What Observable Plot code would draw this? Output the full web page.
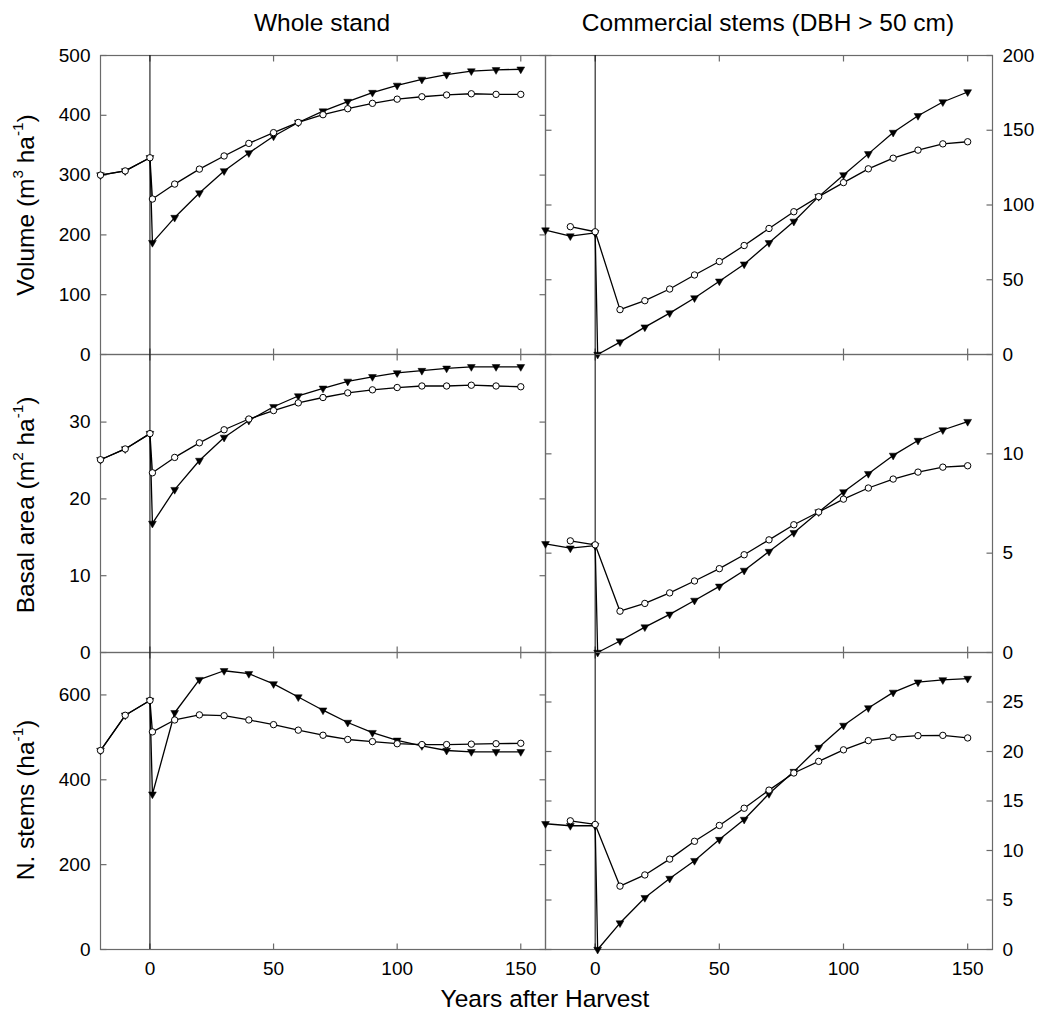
<!DOCTYPE html>
<html><head><meta charset="utf-8">
<script src="https://cdn.jsdelivr.net/npm/d3@7"></script>
<script src="https://cdn.jsdelivr.net/npm/@observablehq/plot@0.6"></script>
<style>
body{margin:0;background:#fff;}
#fig{position:relative;width:1040px;height:1026px;font-family:"Liberation Sans",Arial,sans-serif;color:#000;overflow:hidden;}
.pan{position:absolute;}
.lbl{position:absolute;font-size:24.5px;line-height:1;white-space:nowrap;}
.sp{font-size:0.62em;vertical-align:0.7em;}
</style></head><body><div id="fig"></div>
<script>
// ---------- data ----------
const xDomain = [-20, 160];
const xTicks = [0, 50, 100, 150];
const preYears = [-20, -10, 0];
const postYears = [1, 10, 20, 30, 40, 50, 60, 70, 80, 90, 100, 110, 120, 130, 140, 150];
const circPreYearsC = [-10, 0];
const circPostYearsC = [10, 20, 30, 40, 50, 60, 70, 80, 90, 100, 110, 120, 130, 140, 150];

// Whole stand
const volWholeCircPre = [300, 307, 329];
const volWholeCircPost = [260, 285, 310, 332, 353, 371, 388, 401, 411, 420, 427, 431, 434, 436, 435, 435];
const volWholeTriPre = [300, 307, 329];
const volWholeTriPost = [187, 229, 270, 307, 337, 365, 388, 407, 423, 438, 450, 460, 468, 474, 476, 477];

const baWholeCircPre = [25.1, 26.5, 28.5];
const baWholeCircPost = [23.4, 25.4, 27.3, 29.0, 30.4, 31.5, 32.5, 33.2, 33.8, 34.2, 34.5, 34.7, 34.7, 34.8, 34.7, 34.6];
const baWholeTriPre = [25.1, 26.5, 28.5];
const baWholeTriPost = [16.8, 21.2, 25.0, 28.0, 30.2, 32.0, 33.4, 34.4, 35.3, 35.9, 36.4, 36.7, 37.0, 37.2, 37.2, 37.2];

const nWholeCircPre = [469, 552, 587];
const nWholeCircPost = [513, 541, 553, 551, 541, 530, 517, 505, 495, 490, 485, 483, 483, 484, 485, 486];
const nWholeTriPre = [469, 552, 587];
const nWholeTriPost = [366, 558, 636, 657, 650, 626, 595, 564, 535, 511, 493, 480, 469, 466, 466, 466];

// Commercial stems (DBH > 50 cm)
const volComTriPre = [83.2, 79.2, 81.4];
const volComTriPost = [0, 8.3, 18.3, 27.7, 37.8, 49, 60.4, 74.7, 89, 105.6, 120.1, 134.2, 148.5, 159.7, 168.9, 175.6];
const volComCircPre = [85.5, 82.1];
const volComCircPost = [30, 36, 43.8, 53.2, 62.2, 72.9, 84.3, 95.5, 105.6, 115, 124.2, 131.3, 136.7, 140.9, 142.3];

const baComTriPre = [5.47, 5.25, 5.38];
const baComTriPost = [0, 0.58, 1.28, 1.92, 2.62, 3.33, 4.13, 5.08, 6.03, 7.07, 8.08, 9.0, 9.92, 10.67, 11.2, 11.62];
const baComCircPre = [5.62, 5.42];
const baComCircPost = [2.08, 2.47, 3.0, 3.6, 4.22, 4.92, 5.67, 6.43, 7.07, 7.72, 8.28, 8.73, 9.08, 9.33, 9.4];

const nComTriPre = [12.7, 12.5, 12.5];
const nComTriPost = [0, 2.67, 5.23, 7.17, 8.97, 11.1, 13.13, 15.73, 17.97, 20.4, 22.63, 24.4, 25.97, 27.0, 27.23, 27.37];
const nComCircPre = [13.0, 12.63];
const nComCircPost = [6.4, 7.53, 9.13, 10.93, 12.53, 14.27, 16.1, 17.83, 19.0, 20.17, 21.1, 21.43, 21.6, 21.63, 21.37];

// y tick labels
const volWholeTicks = [0, 100, 200, 300, 400, 500];
const baWholeTicks = [0, 10, 20, 30];
const nWholeTicks = [0, 200, 400, 600];
const volComTicks = [0, 50, 100, 150, 200];
const baComTicks = [0, 5, 10];
const nComTicks = [0, 5, 10, 15, 20, 25];

// ---------- helpers ----------
const zip = (xs, ys) => xs.map((x, i) => ({x, y: ys[i]}));
const frameColor = "#6a6a6a";
const tickIn = (dx, dy) => ({draw(c) { c.moveTo(0, 0); c.lineTo(dx, dy); }});

const fig = document.getElementById("fig");

function panel({left, top, width, height, mL, mR, mB, yDomain, yTicks, side, tri, circ, showX}) {
  const marks = [
    Plot.frame({stroke: frameColor, strokeWidth: 1.2}),
    Plot.dot(yTicks, {y: d => d, frameAnchor: "left", symbol: tickIn(6, 0), stroke: frameColor, fill: "none", strokeWidth: 1.2}),
    Plot.dot(yTicks, {y: d => d, frameAnchor: "right", symbol: tickIn(-6, 0), stroke: frameColor, fill: "none", strokeWidth: 1.2}),
    Plot.dot(xTicks, {x: d => d, frameAnchor: "top", symbol: tickIn(0, 6), stroke: frameColor, fill: "none", strokeWidth: 1.2}),
    Plot.dot(xTicks, {x: d => d, frameAnchor: "bottom", symbol: tickIn(0, -6), stroke: frameColor, fill: "none", strokeWidth: 1.2}),
    Plot.ruleX([0], {stroke: "#000", strokeWidth: 1}),
    Plot.axisY(yTicks, {anchor: side, tickSize: 0, tickPadding: 10, label: null}),
    Plot.line(tri, {x: "x", y: "y", stroke: "#000", strokeWidth: 1.3}),
    Plot.line(circ, {x: "x", y: "y", stroke: "#000", strokeWidth: 1.3}),
    Plot.dot(tri, {x: "x", y: "y", symbol: "triangle", rotate: 180, r: 2.9, fill: "#000", stroke: "#000", strokeWidth: 0.5}),
    Plot.dot(circ, {x: "x", y: "y", r: 3.2, fill: "white", stroke: "#000", strokeWidth: 1})
  ];
  if (showX) marks.push(Plot.axisX(xTicks, {anchor: "bottom", tickSize: 0, tickPadding: 12, label: null}));
  const p = Plot.plot({
    width, height,
    marginLeft: mL, marginRight: mR, marginTop: 0, marginBottom: mB,
    x: showX ? {domain: xDomain} : {domain: xDomain, axis: null},
    y: {domain: yDomain},
    style: {background: "transparent", overflow: "visible", fontFamily: "'Liberation Sans', Arial, sans-serif", fontSize: "19px", color: "#000"},
    marks
  });
  const wrap = document.createElement("div");
  wrap.className = "pan";
  wrap.style.left = left + "px";
  wrap.style.top = top + "px";
  wrap.appendChild(p);
  fig.appendChild(wrap);
}

const rows = [
  {top: 55, h: 299, mB: 0},
  {top: 354, h: 298, mB: 0},
  {top: 652, h: 337, mB: 40}
];

// left column (whole stand)
panel({left: 0, top: rows[0].top, width: 545, height: rows[0].h, mL: 100, mR: 0, mB: rows[0].mB,
  yDomain: [0, 500], yTicks: volWholeTicks, side: "left",
  tri: zip(preYears, volWholeTriPre).concat(zip(postYears, volWholeTriPost)),
  circ: zip(preYears, volWholeCircPre).concat(zip(postYears, volWholeCircPost))});
panel({left: 0, top: rows[1].top, width: 545, height: rows[1].h, mL: 100, mR: 0, mB: rows[1].mB,
  yDomain: [0, 38.8], yTicks: baWholeTicks, side: "left",
  tri: zip(preYears, baWholeTriPre).concat(zip(postYears, baWholeTriPost)),
  circ: zip(preYears, baWholeCircPre).concat(zip(postYears, baWholeCircPost))});
panel({left: 0, top: rows[2].top, width: 545, height: rows[2].h, mL: 100, mR: 0, mB: rows[2].mB,
  yDomain: [0, 700], yTicks: nWholeTicks, side: "left", showX: true,
  tri: zip(preYears, nWholeTriPre).concat(zip(postYears, nWholeTriPost)),
  circ: zip(preYears, nWholeCircPre).concat(zip(postYears, nWholeCircPost))});

// right column (commercial stems)
panel({left: 545, top: rows[0].top, width: 495, height: rows[0].h, mL: 0, mR: 48, mB: rows[0].mB,
  yDomain: [0, 200], yTicks: volComTicks, side: "right",
  tri: zip(preYears, volComTriPre).concat(zip(postYears, volComTriPost)),
  circ: zip(circPreYearsC, volComCircPre).concat(zip(circPostYearsC, volComCircPost))});
panel({left: 545, top: rows[1].top, width: 495, height: rows[1].h, mL: 0, mR: 48, mB: rows[1].mB,
  yDomain: [0, 15], yTicks: baComTicks, side: "right",
  tri: zip(preYears, baComTriPre).concat(zip(postYears, baComTriPost)),
  circ: zip(circPreYearsC, baComCircPre).concat(zip(circPostYearsC, baComCircPost))});
panel({left: 545, top: rows[2].top, width: 495, height: rows[2].h, mL: 0, mR: 48, mB: rows[2].mB,
  yDomain: [0, 30], yTicks: nComTicks, side: "right", showX: true,
  tri: zip(preYears, nComTriPre).concat(zip(postYears, nComTriPost)),
  circ: zip(circPreYearsC, nComCircPre).concat(zip(circPostYearsC, nComCircPost))});

// ---------- text ----------
function label(html, x, y, rotate) {
  const d = document.createElement("div");
  d.className = "lbl";
  d.innerHTML = html;
  d.style.left = x + "px";
  d.style.top = y + "px";
  d.style.transform = rotate ? "translate(-50%,-50%) rotate(-90deg)" : "translate(-50%,0)";
  fig.appendChild(d);
}
label("Whole stand", 322, 11);
label("Commercial stems (DBH &gt; 50 cm)", 768, 11);
label("Years after Harvest", 545, 987);
label('Volume (m<span class="sp">3</span> ha<span class="sp">-1</span>)', 24, 205, true);
label('Basal area (m<span class="sp">2</span> ha<span class="sp">-1</span>)', 24, 505, true);
label('N. stems (ha<span class="sp">-1</span>)', 24, 800, true);
</script></body></html>
